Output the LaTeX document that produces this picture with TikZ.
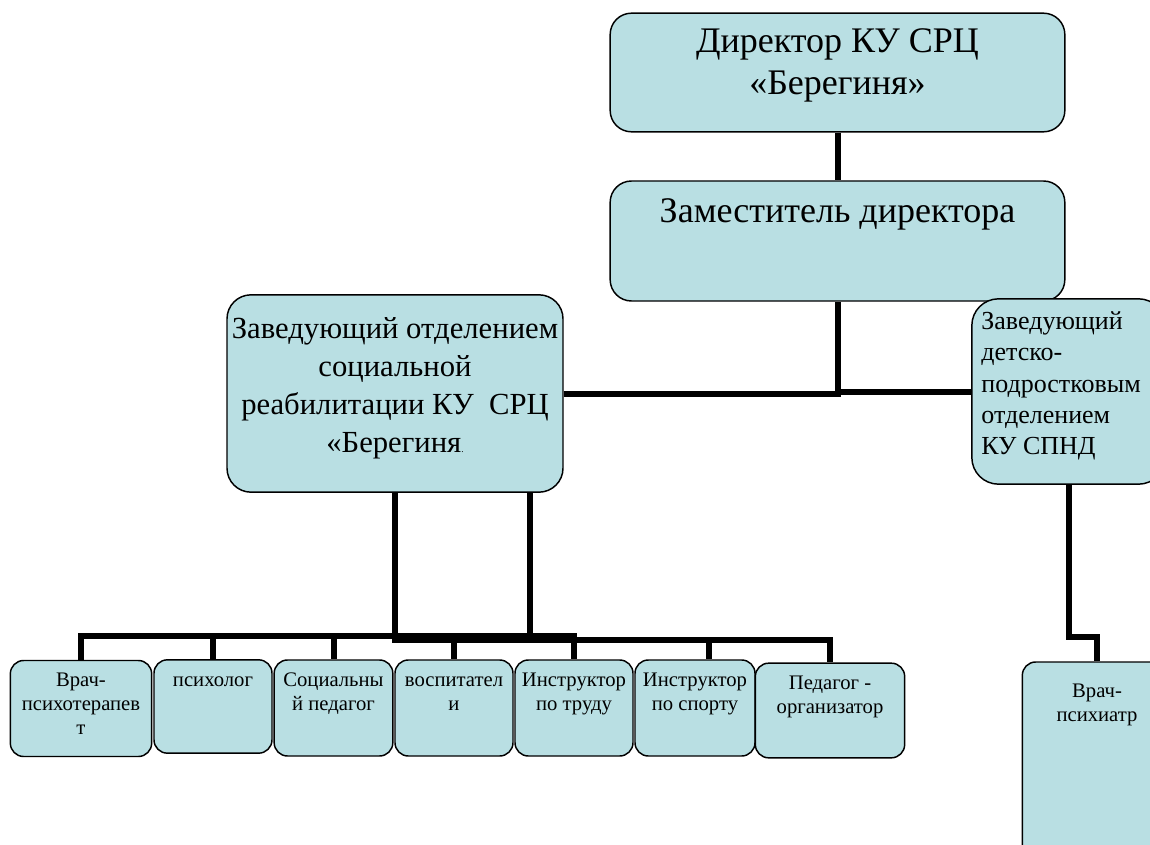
\documentclass[tikz,border=0pt]{standalone}
\usepackage{fontspec}
\setmainfont{Liberation Serif}
\usetikzlibrary{calc}
\definecolor{boxFill}{HTML}{B9DFE3}
\providecommand{\fsTop}{\fontsize{27}{31.5}\selectfont}
\providecommand{\fsHead}{\fontsize{23}{28.5}\selectfont}
\providecommand{\fsSide}{\fontsize{19.5}{23.5}\selectfont}
\providecommand{\fsStaff}{\fontsize{15.5}{18}\selectfont}

\begin{document}
\begin{tikzpicture}[
    x=0.75pt,y=-0.75pt,
    unit/.style={rectangle,draw=black,line width=1.1pt,fill=boxFill,
                 rounded corners=16pt,inner sep=0pt},
    staff/.style={unit,rounded corners=10pt,minimum height=72pt},
    txt/.style={inner sep=0pt,align=center},
    link/.style={line width=4.5pt}
  ]
  \clip (0,0) rectangle (1150,845);
  %% Management
  \node[unit,minimum width=341pt,minimum height=89pt] (dir) at (837.5,72.5) {};
  \node[unit,minimum width=341pt,minimum height=90pt] (dep) at (837.5,241) {};
  \node[unit,rounded corners=18pt,minimum width=252pt,minimum height=148pt] (headL) at (395,393.5) {};
  \node[unit,rounded corners=20pt,minimum width=145pt,minimum height=139pt] (headR) at (1068.5,391.5) {};
  %% Staff row
  \node[staff,minimum width=106pt] (s1) at (81,708.5) {};
  \node[staff,minimum width=88.5pt,minimum height=70pt] (s2) at (213,706.5) {};
  \node[staff,minimum width=89pt] (s3) at (333.5,708) {};
  \node[staff,minimum width=88.5pt] (s4) at (454,708) {};
  \node[staff,minimum width=88.5pt] (s5) at (574,708) {};
  \node[staff,minimum width=90pt] (s6) at (695,708) {};
  \node[staff,minimum width=112pt,minimum height=71pt] (s7) at (830,710.5) {};
  \node[staff,minimum width=112pt,minimum height=156pt] (psy) at (1097,766) {};
  %% Texts
  \node[txt,anchor=north,font=\fsTop] (tDir) at ([yshift=-8pt]dir.north) {\strut Директор КУ СРЦ\\«Берегиня»};
  \node[txt,anchor=north,font=\fsTop] (tDep) at ([yshift=-9.5pt]dep.north) {\strut Заместитель директора};
  \node[txt,anchor=north,font=\fsHead] (tHeadL) at ([yshift=-13.5pt]headL.north)
    {\strut Заведующий отделением\\социальной\\реабилитации КУ\ \ СРЦ\\«Берегиня{\scriptsize.}};
  \node[txt,align=left,anchor=north west,font=\fsSide] (tHeadR) at ([xshift=7.5pt,yshift=-7pt]headR.north west)
    {\strut Заведующий\\детско-\\подростковым\\отделением\\КУ СПНД};
  \node[txt,anchor=north,font=\fsStaff] (t1) at ([yshift=-7.5pt]s1.north) {\strut Врач-\\психотерапев\\т};
  \node[txt,anchor=north,font=\fsStaff] (t2) at ([yshift=-7.5pt]s2.north) {\strut психолог};
  \node[txt,anchor=north,font=\fsStaff] (t3) at ([yshift=-7.5pt]s3.north) {\strut Социальны\\й педагог};
  \node[txt,anchor=north,font=\fsStaff] (t4) at ([yshift=-7.5pt]s4.north) {\strut воспитател\\и};
  \node[txt,anchor=north,font=\fsStaff] (t5) at ([yshift=-7.5pt]s5.north) {\strut Инструктор\\по труду};
  \node[txt,anchor=north,font=\fsStaff] (t6) at ([yshift=-7.5pt]s6.north) {\strut Инструктор\\по спорту};
  \node[txt,anchor=north,font=\fsStaff] (t7) at ([yshift=-7.5pt]s7.north) {\strut Педагог -\\организатор};
  \node[txt,anchor=north,font=\fsStaff] (tPsy) at ([yshift=-14pt]psy.north) {\strut Врач-\\психиатр};
  %% Connectors
  \coordinate (busA) at (0,636);
  \coordinate (busB) at (0,640);
  \coordinate (rjog) at (0,637);
  \coordinate (lfoot) at ($(headL.south)+(135,0)$);
  \coordinate (s6top) at ($(s6.north)+(14,0)$);
  \draw[link] (dir) -- (dep);
  \draw[link] (headL.east) -| (dep.south);
  \draw[link] (dep.south |- headR.west) -- (headR.west);
  \draw[link] (headL.south) |- (s7.north |- busB) -- (s7.north);
  \draw[link] (lfoot) -- (lfoot |- busA);
  \draw[link] (s1.north) |- (s5.north |- busA) -- (s5.north);
  \foreach \s in {s2,s3}
    \draw[link] (\s.north |- busA) -- (\s.north);
  \draw[link] (s4.north |- busB) -- (s4.north);
  \draw[link] (s6top |- busB) -- (s6top);
  \draw[link] (headR.south) |- (psy.north |- rjog) -- (psy.north);
\end{tikzpicture}
\end{document}
